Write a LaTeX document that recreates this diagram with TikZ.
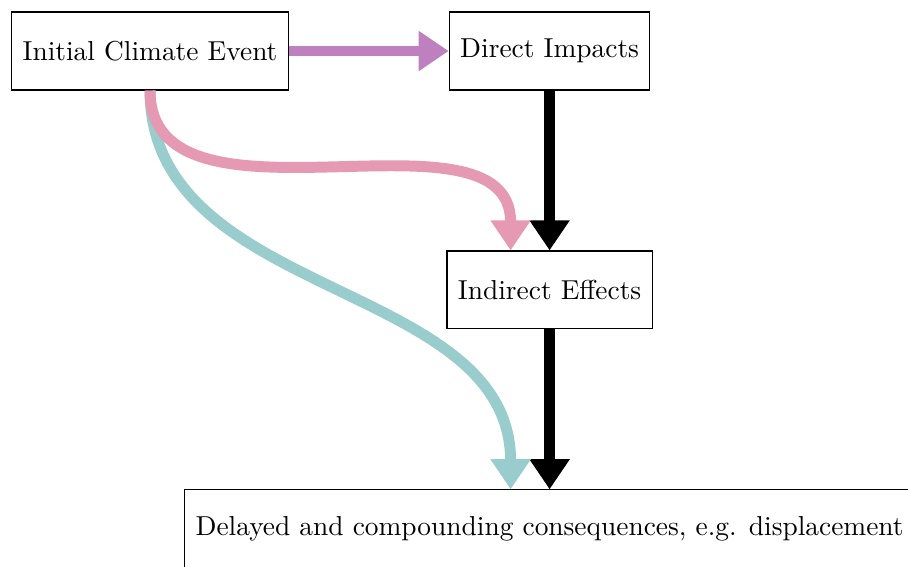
\documentclass[tikz,border=0pt]{standalone}
\usepackage{amsmath}
\usepackage{tikz}
\usetikzlibrary{arrows.meta,positioning}

\begin{document}
\begin{tikzpicture}[->,>={Triangle[length=11pt,width=14pt]},node distance=2.05cm,
  main node/.style={draw,align=center,minimum height=1cm,inner sep=4pt},
  flow/.style={line width=4pt}]
  \useasboundingbox (-1.924,0.654) rectangle (9.72,-6.605);

  \node[main node] (1) {Initial Climate Event};
  \node[main node] (2) [right=of 1] {Direct Impacts};
  \node[main node] (3) [below=of 2] {Indirect Effects};
  \node[main node] (4) [below=of 3] {Delayed and compounding consequences, e.g. displacement};

  \path[flow]
    (1) edge[violet!50] (2)
    (2) edge[black] (3)
    (3) edge[black] (4)
    (1.south) edge[teal!40,out=-90,in=90] ([xshift=-0.5cm]4.north)
    (1.south) edge[purple!40,out=-90,in=90] ([xshift=-0.5cm]3.north);
\end{tikzpicture}
\end{document}
